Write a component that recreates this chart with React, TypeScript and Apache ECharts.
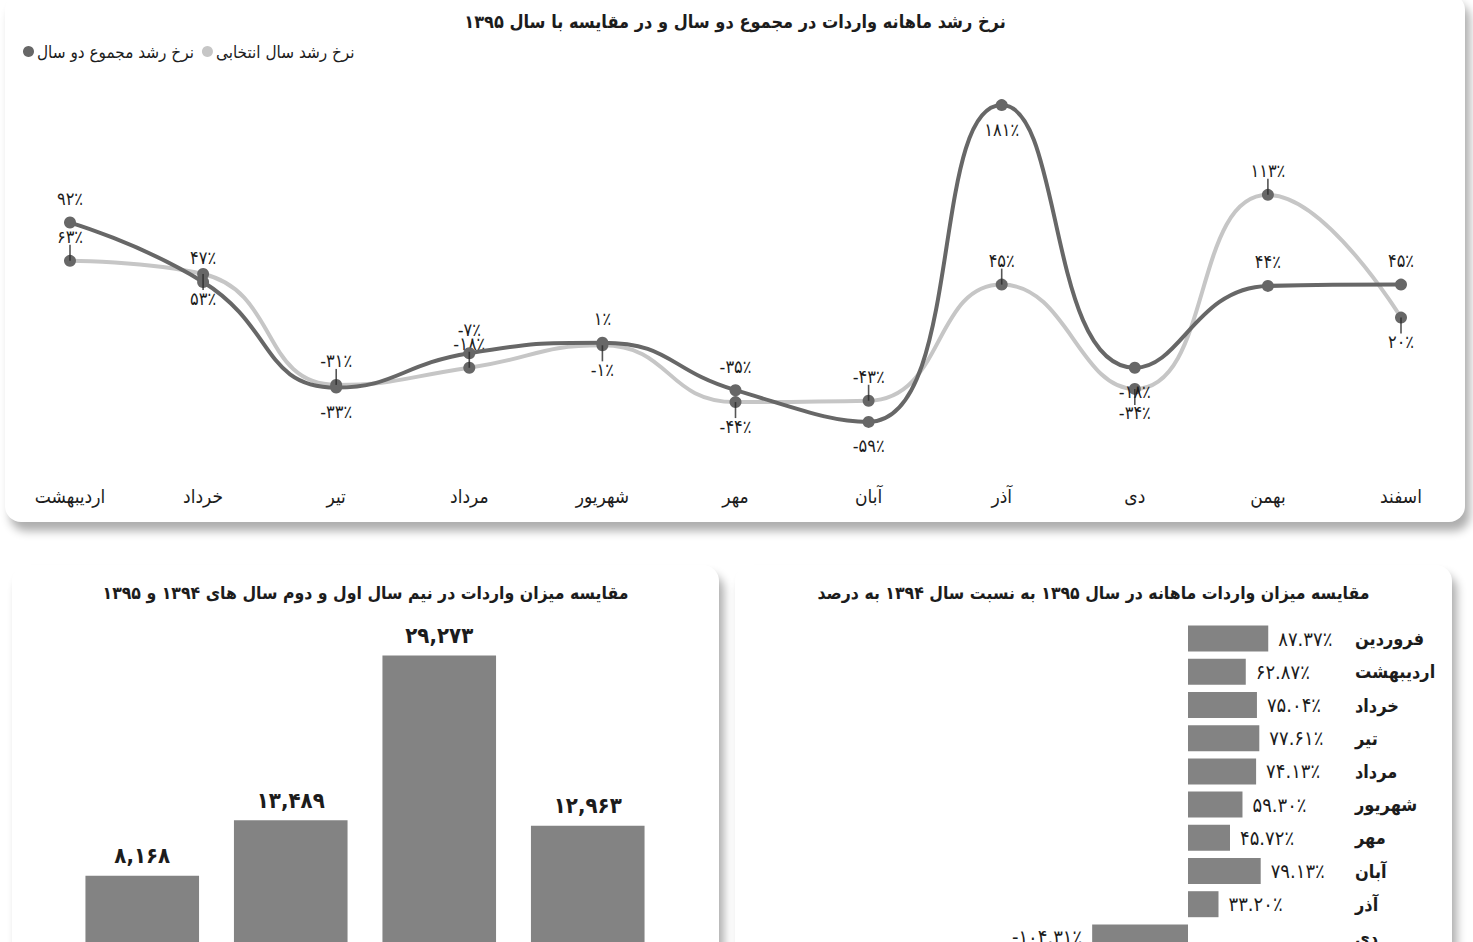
import { useEffect, useRef } from 'react';
import * as echarts from 'echarts';

// ماه‌های نمودار خطی
const lineMonths = ['اردیبهشت', 'خرداد', 'تیر', 'مرداد', 'شهریور', 'مهر', 'آبان', 'آذر', 'دی', 'بهمن', 'اسفند'];
const totalGrowth = [92, 47, -33, -7, 1, -35, -59, 181, -18, 44, 45];
const yearGrowth = [63, 53, -31, -18, -1, -44, -43, 45, -34, 113, 20];

// نیم سال‌ها
const halfYears = ['نیم سال اول ۱۳۹۴', 'نیم سال دوم ۱۳۹۴', 'نیم سال اول ۱۳۹۵', 'نیم سال دوم ۱۳۹۵'];
const halfYearImports = [8168, 13489, 29273, 12963];

// مقایسه ماهانه به درصد
const ratioMonths = ['فروردین', 'اردیبهشت', 'خرداد', 'تیر', 'مرداد', 'شهریور', 'مهر', 'آبان', 'آذر', 'دی'];
const ratioValues = [87.37, 62.87, 75.04, 77.61, 74.13, 59.3, 45.72, 79.13, 33.2, -104.31];

// جای برچسب‌ها (بالا / پایین نقطه)
const totalLabelSide = ['top', 'top', 'bottom', 'top', 'top', 'top', 'bottom', 'bottom', 'bottom', 'top', 'top'];
const yearLabelSide = ['top', 'bottom', 'top', 'top', 'bottom', 'bottom', 'top', 'top', 'bottom', 'top', 'bottom'];

const FONT = '"DejaVu Sans Condensed", "DejaVu Sans", sans-serif';
const DARK = '#676767';
const LIGHT = '#c6c6c6';
const BAR = '#838383';
const TEXT = '#1c1c1c';

const fa = (s: string) => s.replace(/\d/g, (d) => '۰۱۲۳۴۵۶۷۸۹'[+d]);
const pct = (v: number) => fa(String(v)) + '٪';

function useChart(option: any) {
  const ref = useRef<HTMLDivElement>(null);
  useEffect(() => {
    if (!ref.current) return;
    const chart = echarts.init(ref.current, null, { renderer: 'svg' });
    chart.setOption(option);
    return () => {
      chart.dispose();
    };
  }, []);
  return ref;
}

function GrowthChart() {
  const lineLabel = (sides: string[], values: number[]) =>
    values.map((v, i) => ({
      value: v,
      label: { position: sides[i] },
    }));

  const pointLabel = {
    show: true,
    distance: 9,
    fontFamily: FONT,
    fontSize: 18,
    color: TEXT,
    formatter: (p: any) => pct(p.value),
  };

  const option = {
    animation: false,
    textStyle: { fontFamily: FONT },
    title: {
      text: 'نرخ رشد ماهانه واردات در مجموع دو سال و در مقایسه با سال ۱۳۹۵',
      left: 'center',
      top: 13,
      textStyle: { fontFamily: FONT, fontSize: 18, fontWeight: 'bold', color: TEXT },
    },
    legend: {
      left: 13,
      top: 44,
      icon: 'circle',
      itemWidth: 11,
      itemHeight: 11,
      itemGap: 8,
      textStyle: { fontFamily: FONT, fontSize: 17, color: TEXT, padding: [0, 0, 0, -2] },
      data: [
        { name: 'نرخ رشد مجموع دو سال', itemStyle: { color: DARK } },
        { name: 'نرخ رشد سال انتخابی', itemStyle: { color: LIGHT } },
      ],
    },
    grid: { left: 65, right: 64, top: 86, bottom: 46 },
    xAxis: {
      type: 'category',
      boundaryGap: false,
      data: lineMonths,
      axisLine: { show: false },
      axisTick: { show: false },
      axisLabel: { margin: 10, fontFamily: FONT, fontSize: 19, color: TEXT },
    },
    yAxis: { type: 'value', min: -100, max: 200, show: false },
    series: [
      {
        name: 'نرخ رشد سال انتخابی',
        type: 'line',
        smooth: 0.5,
        symbol: 'circle',
        symbolSize: 12,
        z: 2,
        lineStyle: { color: LIGHT, width: 4 },
        itemStyle: { color: DARK },
        label: pointLabel,
        data: lineLabel(yearLabelSide, yearGrowth),
      },
      {
        name: 'نرخ رشد مجموع دو سال',
        type: 'line',
        smooth: 0.5,
        symbol: 'circle',
        symbolSize: 12,
        z: 3,
        lineStyle: { color: DARK, width: 4 },
        itemStyle: { color: DARK },
        label: pointLabel,
        data: lineLabel(totalLabelSide, totalGrowth),
      },
      {
        // خط کوچک زیر برچسب‌های سال انتخابی
        type: 'scatter',
        silent: true,
        z: 4,
        symbol: 'rect',
        symbolSize: [1.6, 16],
        itemStyle: { color: '#2a2a2a' },
        data: yearGrowth.map((v, i) => ({
          value: v,
          symbolOffset: [0, yearLabelSide[i] === 'top' ? -8 : 8],
        })),
      },
    ],
  };
  const ref = useChart(option);
  return <div ref={ref} style={{ width: 1460, height: 528 }} />;
}

function HalfYearChart() {
  const option = {
    animation: false,
    textStyle: { fontFamily: FONT },
    title: {
      text: 'مقایسه میزان واردات در نیم سال اول و دوم سال های ۱۳۹۴ و ۱۳۹۵',
      left: 'center',
      top: 14,
      textStyle: { fontFamily: FONT, fontSize: 17.5, fontWeight: 'bold', color: TEXT },
    },
    grid: { left: 56, right: 57, top: 83, bottom: 4 },
    xAxis: {
      type: 'category',
      data: halfYears,
      axisLine: { show: false },
      axisTick: { show: false },
      axisLabel: { show: false },
    },
    yAxis: { type: 'value', min: 0, max: 30000, show: false },
    series: [
      {
        type: 'bar',
        barWidth: '76.5%',
        itemStyle: { color: BAR },
        label: {
          show: true,
          position: 'top',
          distance: 9,
          fontFamily: FONT,
          fontSize: 22,
          fontWeight: 'bold',
          color: TEXT,
          formatter: (p: any) => fa(p.value.toLocaleString('en-US')),
        },
        data: halfYearImports,
      },
    ],
  };
  const ref = useChart(option);
  return <div ref={ref} style={{ width: 707, height: 400 }} />;
}

function RatioChart() {
  const option = {
    animation: false,
    textStyle: { fontFamily: FONT },
    title: {
      text: 'مقایسه میزان واردات ماهانه در سال ۱۳۹۵ به نسبت سال ۱۳۹۴ به درصد',
      left: 'center',
      top: 14,
      textStyle: { fontFamily: FONT, fontSize: 17.5, fontWeight: 'bold', color: TEXT },
    },
    grid: { left: 306, right: 117, top: 57, bottom: 11 },
    xAxis: { type: 'value', min: -160, max: 160, show: false },
    yAxis: {
      type: 'category',
      inverse: true,
      position: 'right',
      data: ratioMonths,
      axisLine: { show: false },
      axisTick: { show: false },
      axisLabel: {
        margin: 20,
        align: 'left',
        fontFamily: FONT,
        fontSize: 18,
        fontWeight: 'bold',
        color: TEXT,
      },
    },
    series: [
      {
        type: 'bar',
        barWidth: 26,
        itemStyle: { color: BAR },
        label: {
          show: true,
          distance: 10,
          fontFamily: FONT,
          fontSize: 20,
          color: TEXT,
          formatter: (p: any) => fa(p.value.toFixed(2)) + '٪',
        },
        data: ratioValues.map((v) => ({
          value: v,
          label: { position: v < 0 ? 'left' : 'right' },
        })),
      },
    ],
  };
  const ref = useChart(option);
  return <div ref={ref} style={{ width: 717, height: 400 }} />;
}

const card: React.CSSProperties = {
  position: 'absolute',
  background: '#ffffff',
  borderRadius: 16,
  boxShadow: '5px 9px 10px rgba(0,0,0,0.32)',
  overflow: 'hidden',
};

export default function App() {
  return (
    <div
      style={{
        position: 'fixed',
        left: 0,
        top: 0,
        width: 1473,
        height: 942,
        overflow: 'hidden',
        background: '#ffffff',
      }}
    >
      <div style={{ ...card, left: 5, top: -6, width: 1460, height: 528 }}>
        <GrowthChart />
      </div>
      <div style={{ ...card, left: 12, top: 565, width: 707, height: 400 }}>
        <HalfYearChart />
      </div>
      <div style={{ ...card, left: 735, top: 565, width: 717, height: 400 }}>
        <RatioChart />
      </div>
    </div>
  );
}
